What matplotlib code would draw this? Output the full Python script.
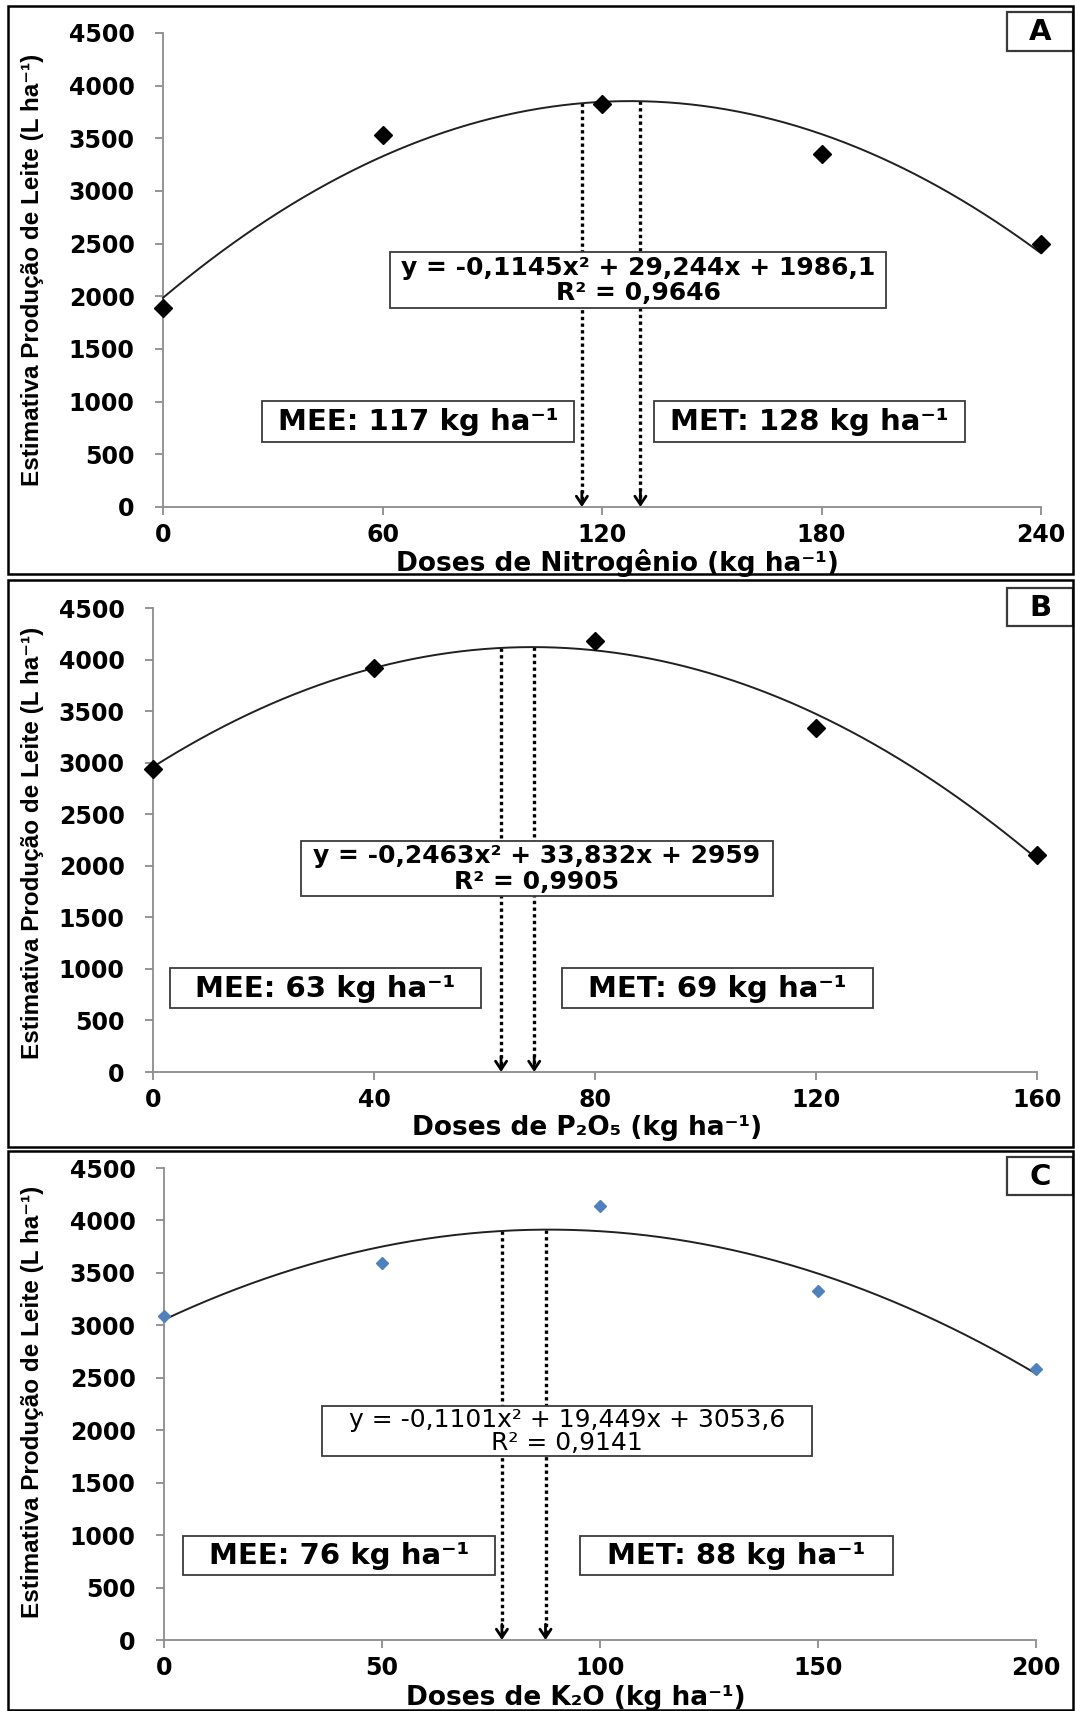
import matplotlib
matplotlib.use("Agg")
import matplotlib.pyplot as plt
from matplotlib.patches import Rectangle
from matplotlib import font_manager
import numpy as np

W, H = 1075, 1711

# --- data ---
# A: nitrogen
doses_n = [0, 60, 120, 180, 240]
leite_n = [1890, 3530, 3830, 3350, 2500]
coef_n = [-0.1145, 29.244, 1986.1]
arrows_n = [114.5, 130.5]
xticks_n = [0, 60, 120, 180, 240]

# B: P2O5
doses_p = [0, 40, 80, 120, 160]
leite_p = [2940, 3920, 4180, 3340, 2100]
coef_p = [-0.2463, 33.832, 2959]
arrows_p = [63, 69]
xticks_p = [0, 40, 80, 120, 160]

# C: K2O
doses_k = [0, 50, 100, 150, 200]
leite_k = [3090, 3590, 4140, 3330, 2580]
coef_k = [-0.1101, 19.449, 3053.6]
arrows_k = [77.5, 87.5]
xticks_k = [0, 50, 100, 150, 200]

yticks = [0, 500, 1000, 1500, 2000, 2500, 3000, 3500, 4000, 4500]

eq_n = ["y = -0,1145x² + 29,244x + 1986,1", "R² = 0,9646"]
eq_p = ["y = -0,2463x² + 33,832x + 2959", "R² = 0,9905"]
eq_k = ["y = -0,1101x² + 19,449x + 3053,6", "R² = 0,9141"]

mee_n, met_n = "MEE: 117 kg ha⁻¹", "MET: 128 kg ha⁻¹"
mee_p, met_p = "MEE: 63 kg ha⁻¹", "MET: 69 kg ha⁻¹"
mee_k, met_k = "MEE: 76 kg ha⁻¹", "MET: 88 kg ha⁻¹"

xlab_n = "Doses de Nitrogênio (kg ha⁻¹)"
xlab_p = "Doses de P₂O₅ (kg ha⁻¹)"
xlab_k = "Doses de K₂O (kg ha⁻¹)"
ylab = "Estimativa Produção de Leite (L ha⁻¹)"

installed = set(f.name for f in font_manager.fontManager.ttflist)
if "Liberation Sans Narrow" in installed:
    ylab_font = ["Liberation Sans Narrow", "DejaVu Sans"]
    ylab_size = 20
else:
    ylab_font = ["Liberation Sans", "DejaVu Sans"]
    ylab_size = 17.5

plt.rcParams['font.family'] = ['DejaVu Sans']

fig = plt.figure(figsize=(W / 100, H / 100), dpi=100)


def fbox(x0, y0, x1, y1, ec="#3a3a3a", lw=1.3):
    # rectangle given in pixel coords (top-down)
    r = Rectangle((x0 / W, 1 - y1 / H), (x1 - x0) / W, (y1 - y0) / H,
                  transform=fig.transFigure, fill=False, ec=ec, lw=lw)
    fig.add_artist(r)


def ftext(x, y, s, **kw):
    fig.text(x / W, 1 - y / H, s, ha="center", va="center", **kw)


panels = [
    dict(ax=(163, 33, 1041, 507), x=doses_n, y=leite_n, coef=coef_n, arr=arrows_n,
         xt=xticks_n, xlab=xlab_n, xlab_pos=(617, 563), ylab_pos=(33, 270),
         eq=eq_n, eqbox=(390, 252, 886, 308), eqw="bold", eqsize=18,
         mee=mee_n, met=met_n, meebox=(262, 401, 574, 442), metbox=(654, 401, 965, 442),
         letter="A", letbox=(1007, 12, 1073, 51), frame=(8, 6, 1073, 574),
         mk=dict(marker="D", ms=9.5, color="black")),
    dict(ax=(153, 608, 1037, 1072), x=doses_p, y=leite_p, coef=coef_p, arr=arrows_p,
         xt=xticks_p, xlab=xlab_p, xlab_pos=(587, 1128), ylab_pos=(33, 843),
         eq=eq_p, eqbox=(301, 841, 773, 896), eqw="bold", eqsize=18,
         mee=mee_p, met=met_p, meebox=(170, 968, 481, 1008), metbox=(562, 968, 873, 1008),
         letter="B", letbox=(1007, 588, 1073, 626), frame=(8, 580, 1073, 1147),
         mk=dict(marker="D", ms=9.5, color="black")),
    dict(ax=(164, 1168, 1036, 1640), x=doses_k, y=leite_k, coef=coef_k, arr=arrows_k,
         xt=xticks_k, xlab=xlab_k, xlab_pos=(576, 1698), ylab_pos=(33, 1402),
         eq=eq_k, eqbox=(322, 1406, 812, 1456), eqw="normal", eqsize=18,
         mee=mee_k, met=met_k, meebox=(183, 1536, 495, 1575), metbox=(580, 1536, 893, 1575),
         letter="C", letbox=(1007, 1157, 1073, 1195), frame=(8, 1151, 1073, 1710),
         mk=dict(marker="D", ms=6.5, color="#4F81BD")),
]

for p in panels:
    l, t, r, b = p["ax"]
    ax = fig.add_axes([l / W, 1 - b / H, (r - l) / W, (b - t) / H])
    xmax = p["xt"][-1]
    xs = np.linspace(0, xmax, 300)
    ax.plot(xs, np.polyval(p["coef"], xs), color="#202020", lw=1.4, clip_on=False, zorder=3)
    ax.plot(p["x"], p["y"], ls="none", clip_on=False, zorder=4, **p["mk"])

    for xa in p["arr"]:
        top = np.polyval(p["coef"], xa)
        ax.plot([xa, xa], [top, 60], color="black", lw=2.4, ls=(0, (1, 1)), zorder=2)
        ax.annotate("", xy=(xa, 0), xytext=(xa, 150),
                    arrowprops=dict(arrowstyle="->,head_length=0.6,head_width=0.4",
                                    color="black", lw=2.0, shrinkA=0, shrinkB=0))

    ax.set_xlim(0, xmax)
    ax.set_ylim(0, 4500)
    ax.set_xticks(p["xt"])
    ax.set_yticks(yticks)
    for s in ["top", "right"]:
        ax.spines[s].set_visible(False)
    for s in ["left", "bottom"]:
        ax.spines[s].set_color("#8c8c8c")
        ax.spines[s].set_linewidth(1.3)
    ax.tick_params(axis="both", direction="out", length=5.5, width=1.3, color="#8c8c8c")
    ax.tick_params(axis="y", pad=15)
    ax.tick_params(axis="x", pad=6)
    for lab in ax.get_xticklabels() + ax.get_yticklabels():
        lab.set_fontsize(17)
        lab.set_fontweight("bold")
    ax.patch.set_alpha(0)

    # labels
    ftext(*p["xlab_pos"], p["xlab"], fontsize=19, fontweight="bold")
    ftext(*p["ylab_pos"], ylab, rotation=90, fontsize=ylab_size, fontweight="bold",
          family=ylab_font)

    # equation box
    ex0, ey0, ex1, ey1 = p["eqbox"]
    fig.patches.append(Rectangle((ex0 / W, 1 - ey1 / H), (ex1 - ex0) / W, (ey1 - ey0) / H,
                                 transform=fig.transFigure, fc="white", ec="#3a3a3a",
                                 lw=1.3, zorder=5))
    cx = (ex0 + ex1) / 2
    ftext(cx, ey0 + (ey1 - ey0) * 0.28, p["eq"][0], fontsize=p["eqsize"],
          fontweight=p["eqw"], zorder=6)
    ftext(cx, ey0 + (ey1 - ey0) * 0.74, p["eq"][1], fontsize=p["eqsize"],
          fontweight=p["eqw"], zorder=6)

    # MEE / MET boxes
    for bx, txt in [(p["meebox"], p["mee"]), (p["metbox"], p["met"])]:
        fbox(*bx)
        ftext((bx[0] + bx[2]) / 2, (bx[1] + bx[3]) / 2 + 1, txt, fontsize=21,
              fontweight="bold")

    # panel letter
    fbox(*p["letbox"], lw=1.6)
    lb = p["letbox"]
    ftext((lb[0] + lb[2]) / 2, (lb[1] + lb[3]) / 2 + 1, p["letter"], fontsize=21,
          fontweight="bold")

    # panel frame
    fbox(*p["frame"], ec="black", lw=1.8)

fig.savefig("out.png", dpi=100)
